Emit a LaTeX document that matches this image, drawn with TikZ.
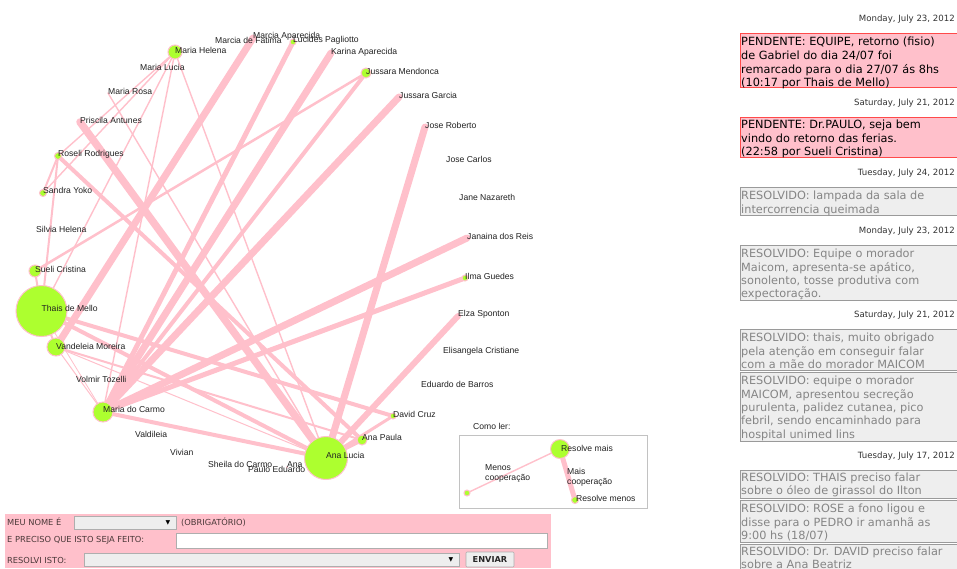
\documentclass[tikz,border=0pt]{standalone}
\usepackage{fontspec}
\setmainfont{Liberation Sans}
\newfontfamily\vfont{DejaVu Sans}
\definecolor{epink}{HTML}{FFC0CB}
\definecolor{ygreen}{HTML}{ADFF2F}
\definecolor{lblc}{HTML}{222222}
\definecolor{redb}{HTML}{FF4A4A}
\definecolor{grayb}{HTML}{9A9A9A}
\definecolor{grayf}{HTML}{EEEEEE}
\definecolor{grayt}{HTML}{858585}
\definecolor{formt}{HTML}{4A3838}
\definecolor{datet}{HTML}{333333}
\tikzset{
  edge/.style={draw=epink, line cap=round},
  gnode/.style={circle, fill=ygreen, draw=epink, line width=1pt, inner sep=0pt},
  pdot/.style={circle, fill=epink, inner sep=0pt, minimum size=2pt},
  lbl/.style={anchor=west, inner sep=0pt, text=lblc, font=\fontsize{8.6}{10}\selectfont},
  msg/.style={anchor=base west, inner sep=0pt, font=\vfont\fontsize{11.3}{13}\selectfont},
  datel/.style={anchor=base east, inner sep=0pt, text=datet, font=\vfont\fontsize{8.6}{10}\selectfont},
  pendbox/.style={fill=epink, draw=redb, line width=0.9pt},
  resbox/.style={fill=grayf, draw=grayb, line width=0.9pt},
  ftext/.style={anchor=west, inner sep=0pt, text=formt, font=\vfont\fontsize{8.3}{10}\selectfont},
  fbox/.style={fill=grayf, draw=grayb!80, line width=0.6pt},
  tbox/.style={fill=white, draw=grayb!80, line width=0.6pt},
}
\begin{document}
\begin{tikzpicture}[x=1pt,y=-1pt]
\useasboundingbox (0,0) rectangle (957,568);
\fill[white] (0,0) rectangle (957,568);
% ---------- node positions
\coordinate (marciaF) at (215,42);
\coordinate (marciaA) at (253,38);
\coordinate (lucides) at (293,42);
\coordinate (karina) at (331,53);
\coordinate (jmend) at (366,73);
\coordinate (jgarcia) at (399,97);
\coordinate (joseR) at (425,127);
\coordinate (joseC) at (446,161);
\coordinate (jane) at (459,198);
\coordinate (janaina) at (467,238);
\coordinate (ilma) at (465,278);
\coordinate (elza) at (458,316);
\coordinate (elis) at (443,352);
\coordinate (eduardo) at (421,386);
\coordinate (david) at (393,416);
\coordinate (anapaula) at (362,440);
\coordinate (analucia) at (326,458);
\coordinate (ana) at (287,467);
\coordinate (paulo) at (248,470);
\coordinate (sheila) at (208,466);
\coordinate (vivian) at (170,453);
\coordinate (valdileia) at (135,435);
\coordinate (mcarmo) at (103,412);
\coordinate (volmir) at (76,380);
\coordinate (vandeleia) at (56,347);
\coordinate (thais) at (41.5,311);
\coordinate (sueli) at (35,271);
\coordinate (silvia) at (36,230);
\coordinate (sandra) at (43,193);
\coordinate (roseli) at (58,156);
\coordinate (priscila) at (80,122);
\coordinate (mrosa) at (108,93);
\coordinate (mlucia) at (140,68);
\coordinate (mhelena) at (175,52);
% ---------- edges
\draw[edge, line width=1pt] (vandeleia) -- (analucia);
\draw[edge, line width=0.8pt] (thais) -- (mcarmo);
\draw[edge, line width=1pt] (vandeleia) -- (mcarmo);
\draw[edge, line width=1.4pt] (mhelena) -- (analucia);
\draw[edge, line width=1.4pt] (mrosa) -- (analucia);
\draw[edge, line width=1.4pt] (mhelena) -- (roseli);
\draw[edge, line width=1.4pt] (mhelena) -- (sandra);
\draw[edge, line width=1.4pt] (mhelena) -- (mcarmo);
\draw[edge, line width=1.4pt] (mhelena) -- (thais);
\draw[edge, line width=2pt] (roseli) -- (sandra);
\draw[edge, line width=2pt] (roseli) -- (thais);
\draw[edge, line width=2pt] (sueli) -- (thais);
\draw[edge, line width=2pt] (thais) -- (vandeleia);
\draw[edge, line width=2pt] (vandeleia) -- (anapaula);
\draw[edge, line width=2.5pt] (jmend) -- (sueli);
\draw[edge, line width=4pt] (thais) -- (analucia);
\draw[edge, line width=4pt] (david) -- (thais);
\draw[edge, line width=3pt] (david) -- (analucia);
\draw[edge, line width=4pt] (anapaula) -- (analucia);
\draw[edge, line width=4pt] (roseli) -- (anapaula);
\draw[edge, line width=4pt] (mcarmo) -- (analucia);
\draw[edge, line width=7.5pt] (priscila) -- (analucia);
\draw[edge, line width=7pt] (joseR) -- (analucia);
\draw[edge, line width=6pt] (elza) -- (analucia);
\draw[edge, line width=7pt] (marciaA) -- (vandeleia);
\draw[edge, line width=5pt] (lucides) -- (mcarmo);
\draw[edge, line width=7pt] (karina) -- (mcarmo);
\draw[edge, line width=4pt] (jmend) -- (mcarmo);
\draw[edge, line width=7pt] (jgarcia) -- (mcarmo);
\draw[edge, line width=7pt] (janaina) -- (mcarmo);
\draw[edge, line width=5pt] (ilma) -- (mcarmo);
% ---------- node circles
\node[gnode, minimum size=51pt] (thaisN) at (thais) {};
\node[gnode, minimum size=43pt] (analuciaN) at (analucia) {};
\node[gnode, minimum size=20pt] (mcarmoN) at (mcarmo) {};
\node[gnode, minimum size=18pt] (vandeleiaN) at (vandeleia) {};
\node[gnode, minimum size=14pt] (mhelenaN) at (mhelena) {};
\node[gnode, minimum size=12pt] (sueliN) at (sueli) {};
\node[gnode, minimum size=10pt] (jmendN) at (jmend) {};
\node[gnode, minimum size=10pt] (anapaulaN) at (anapaula) {};
\node[gnode, minimum size=7pt] (sandraN) at (sandra) {};
\node[gnode, minimum size=7pt] (roseliN) at (roseli) {};
\node[gnode, minimum size=6pt] (lucidesN) at (lucides) {};
\node[gnode, minimum size=6pt] (ilmaN) at (ilma) {};
\node[gnode, minimum size=6pt] (davidN) at (david) {};
\node[pdot] (anaN) at (ana) {};
% ---------- labels
\node[lbl] (lmarciaF) at ([yshift=2pt]marciaF) {Marcia de Fatima};
\node[lbl] (lmarciaA) at ([yshift=2pt]marciaA) {Marcia Aparecida};
\node[lbl] (llucides) at ([yshift=2pt]lucides) {Lucides Pagliotto};
\node[lbl] (lkarina) at ([yshift=1pt]karina) {Karina Aparecida};
\node[lbl] (ljmend) at ([yshift=2pt]jmend) {Jussara Mendonca};
\node[lbl] (ljgarcia) at ([yshift=2pt]jgarcia) {Jussara Garcia};
\node[lbl] (ljoseR) at ([yshift=2pt]joseR) {Jose Roberto};
\node[lbl] (ljoseC) at ([yshift=2pt]joseC) {Jose Carlos};
\node[lbl] (ljane) at ([yshift=1pt]jane) {Jane Nazareth};
\node[lbl] (ljanaina) at ([yshift=2pt]janaina) {Janaina dos Reis};
\node[lbl] (lilma) at ([yshift=2pt]ilma) {Ilma Guedes};
\node[lbl] (lelza) at ([yshift=2pt]elza) {Elza Sponton};
\node[lbl] (lelis) at ([yshift=1pt]elis) {Elisangela Cristiane};
\node[lbl] (leduardo) at ([yshift=2pt]eduardo) {Eduardo de Barros};
\node[lbl] (ldavid) at ([yshift=2pt]david) {David Cruz};
\node[lbl] (lanapaula) at ([yshift=3pt]anapaula) {Ana Paula};
\node[lbl] (lanalucia) at ([yshift=3pt]analucia) {Ana Lucia};
\node[lbl] (lsheila) at ([yshift=2pt]sheila) {Sheila do Carmo};
\node[lbl] (lana) at ([yshift=2pt]ana) {Ana};
\node[lbl] (lpaulo) at ([yshift=1pt]paulo) {Paulo Eduardo};
\node[lbl] (lvivian) at ([yshift=1pt]vivian) {Vivian};
\node[lbl] (lvaldileia) at ([yshift=1pt]valdileia) {Valdileia};
\node[lbl] (lmcarmo) at ([yshift=3pt]mcarmo) {Maria do Carmo};
\node[lbl] (lvolmir) at ([yshift=1pt]volmir) {Volmir Tozelli};
\node[lbl] (lvandeleia) at ([yshift=1pt]vandeleia) {Vandeleia Moreira};
\node[lbl] (lthais) at ([yshift=3pt]thais) {Thais de Mello};
\node[lbl] (lsueli) at ([yshift=2pt]sueli) {Sueli Cristina};
\node[lbl] (lsilvia) at ([yshift=1pt]silvia) {Silvia Helena};
\node[lbl] (lsandra) at ([yshift=3pt]sandra) {Sandra Yoko};
\node[lbl] (lroseli) at ([yshift=2pt]roseli) {Roseli Rodrigues};
\node[lbl] (lpriscila) at ([yshift=2pt]priscila) {Priscila Antunes};
\node[lbl] (lmrosa) at ([yshift=2pt]mrosa) {Maria Rosa};
\node[lbl] (lmlucia) at ([yshift=1pt]mlucia) {Maria Lucia};
\node[lbl] (lmhelena) at ([yshift=2pt]mhelena) {Maria Helena};
% ---------- legend
\node[lbl] (comoler) at (473,426) {Como ler:};
\draw[draw=grayb!60, line width=0.8pt] (459,435) rectangle (647,508);
\coordinate (lgmais) at (560,449);
\coordinate (lgmenos) at (575,500);
\coordinate (lgpouco) at (467,493);
\draw[edge, line width=1.4pt] (lgpouco) -- (lgmais);
\draw[edge, line width=5pt] (lgmais) -- (lgmenos);
\node[gnode, minimum size=19pt] (lgmaisN) at (lgmais) {};
\node[gnode, minimum size=7pt] (lgmenosN) at (lgmenos) {};
\node[gnode, minimum size=6pt] (lgpoucoN) at (lgpouco) {};
\node[lbl] (lresmais) at (561,448) {Resolve mais};
\node[lbl] (lresmenos) at (576,498) {Resolve menos};
\node[lbl, align=left] (lmenosc) at (485,473) {Menos\\cooperação};
\node[lbl, align=left] (lmaisc) at (567,477) {Mais\\cooperação};
% ---------- form
\fill[epink] (5,514) rectangle (551,568);
\node[ftext] (f1) at (7,522) {MEU NOME É};
\draw[fbox] (74,516) rectangle (176,529);
\node[anchor=center, inner sep=0pt, font=\vfont\fontsize{6}{7}\selectfont] (dd1) at (168,522.5) {▼};
\node[ftext] (f1b) at (181,522) {(OBRIGATÓRIO)};
\node[ftext] (f2) at (7,540.5) {E PRECISO QUE ISTO SEJA FEITO:};
\draw[tbox] (176,533) rectangle (547,548);
\node[ftext] (f3) at (7,560) {RESOLVI ISTO:};
\draw[fbox] (84,553) rectangle (459,566);
\node[anchor=center, inner sep=0pt, font=\vfont\fontsize{6}{7}\selectfont] (dd2) at (451,559.5) {▼};
\draw[fbox, rounded corners=1pt] (466,552) rectangle (514,567);
\node[anchor=center, inner sep=0pt, text=black!85, font=\vfont\bfseries\fontsize{8.2}{10}\selectfont] (envbtn) at (490,559.5) {ENVIAR};
% ---------- right panel
\node[datel] (d1) at (955,21) {Monday, July 23, 2012};
\draw[pendbox] (740,33) rectangle (962,87);
\node[msg] (m1a) at (741,45) {PENDENTE: EQUIPE, retorno (fisio)};
\node[msg] (m1b) at (741,59) {de Gabriel do dia 24/07 foi};
\node[msg] (m1c) at (741,73) {remarcado para o dia 27/07 ás 8hs};
\node[msg] (m1d) at (741,86) {(10:17 por Thais de Mello)};
\node[datel] (d2) at (955,105) {Saturday, July 21, 2012};
\draw[pendbox] (740,117) rectangle (962,157);
\node[msg] (m2a) at (741,128) {PENDENTE: Dr.PAULO, seja bem};
\node[msg] (m2b) at (741,142) {vindo do retorno das ferias.};
\node[msg] (m2c) at (741,155) {(22:58 por Sueli Cristina)};
\node[datel] (d3) at (955,175) {Tuesday, July 24, 2012};
\draw[resbox] (740,187) rectangle (962,215);
\node[msg, text=grayt] (m3a) at (741,199) {RESOLVIDO: lampada da sala de};
\node[msg, text=grayt] (m3b) at (741,213) {intercorrencia queimada};
\node[datel] (d4) at (955,233) {Monday, July 23, 2012};
\draw[resbox] (740,245) rectangle (962,300);
\node[msg, text=grayt] (m4a) at (741,257) {RESOLVIDO: Equipe o morador};
\node[msg, text=grayt] (m4b) at (741,271) {Maicom, apresenta-se apático,};
\node[msg, text=grayt] (m4c) at (741,284) {sonolento, tosse produtiva com};
\node[msg, text=grayt] (m4d) at (741,297) {expectoração.};
\node[datel] (d5) at (955,317) {Saturday, July 21, 2012};
\draw[resbox] (740,329) rectangle (962,370);
\node[msg, text=grayt] (m5a) at (741,341) {RESOLVIDO: thais, muito obrigado};
\node[msg, text=grayt] (m5b) at (741,355) {pela atenção em conseguir falar};
\node[msg, text=grayt] (m5c) at (741,368) {com a mãe do morador MAICOM};
\draw[resbox] (740,372) rectangle (962,441);
\node[msg, text=grayt] (m6a) at (741,384) {RESOLVIDO: equipe o morador};
\node[msg, text=grayt] (m6b) at (741,398) {MAICOM, apresentou secreção};
\node[msg, text=grayt] (m6c) at (741,411) {purulenta, palidez cutanea, pico};
\node[msg, text=grayt] (m6d) at (741,424) {febril, sendo encaminhado para};
\node[msg, text=grayt] (m6e) at (741,438) {hospital unimed lins};
\node[datel] (d6) at (955,458) {Tuesday, July 17, 2012};
\draw[resbox] (740,470) rectangle (962,498);
\node[msg, text=grayt] (m7a) at (741,481) {RESOLVIDO: THAIS preciso falar};
\node[msg, text=grayt] (m7b) at (741,494) {sobre o óleo de girassol do Ilton};
\draw[resbox] (740,500) rectangle (962,542);
\node[msg, text=grayt] (m8a) at (741,512) {RESOLVIDO: ROSE a fono ligou e};
\node[msg, text=grayt] (m8b) at (741,526) {disse para o PEDRO ir amanhã as};
\node[msg, text=grayt] (m8c) at (741,539) {9:00 hs (18/07)};
\draw[resbox] (740,544) rectangle (962,580);
\node[msg, text=grayt] (m9a) at (741,555) {RESOLVIDO: Dr. DAVID preciso falar};
\node[msg, text=grayt] (m9b) at (741,568) {sobre a Ana Beatriz};
\end{tikzpicture}
\end{document}
